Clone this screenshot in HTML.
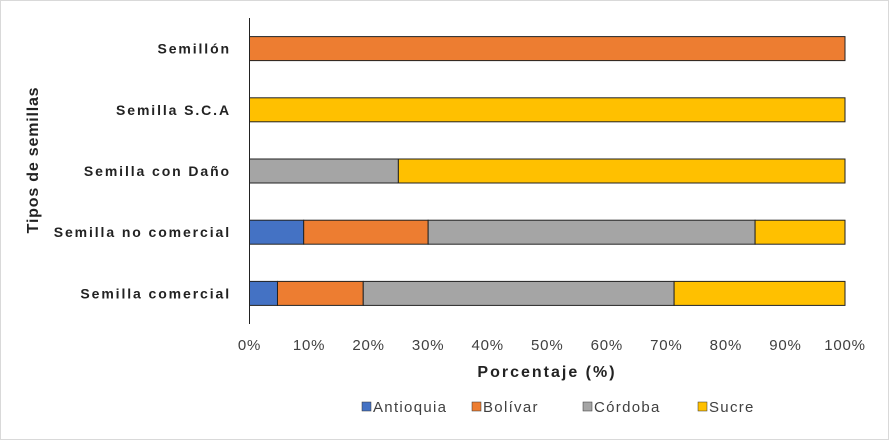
<!DOCTYPE html>
<html><head><meta charset="utf-8"><style>
body{margin:0;background:#fff}
svg{display:block;font-family:"Liberation Sans",Arial,sans-serif}
</style></head><body>
<svg id="c" width="889" height="440">
<rect x="0.5" y="0.5" width="888" height="439" fill="#fff" stroke="#d9d9d9"/>
</svg>
<script>
const categories=["Semillón","Semilla S.C.A","Semilla con Daño","Semilla no comercial","Semilla comercial"];
const seriesNames=["Antioquia","Bolívar","Córdoba","Sucre"];
const antioquia=[0,0,0,9.1,4.7];
const bolivar=[100,0,0,20.9,14.4];
const cordoba=[0,0,25,54.9,52.2];
const sucre=[0,100,75,15.1,28.7];
const xTicks=[0,10,20,30,40,50,60,70,80,90,100];
const colors=["#4472c4","#ed7d31","#a5a5a5","#ffc000"];
const series=[antioquia,bolivar,cordoba,sucre];
const svg=document.getElementById('c');
const NS="http://www.w3.org/2000/svg";
const X0=249.5,X1=845,Y0=18,Y1=324;
const band=(Y1-Y0)/categories.length;
const xs=v=>X0+(X1-X0)*v/100;
const yc=i=>Y0+band*(i+0.5);
function mk(t,a,txt){const e=document.createElementNS(NS,t);for(const k in a)e.setAttribute(k,a[k]);if(txt!=null)e.textContent=txt;svg.appendChild(e);return e;}
categories.forEach((c,i)=>{
  let acc=0;
  series.forEach((s,j)=>{
    const v=s[i];
    if(v>0){
      const r=mk('rect',{x:xs(acc),y:yc(i)-12,width:xs(acc+v)-xs(acc),height:24,fill:colors[j],stroke:'#222','stroke-width':1});
      
      
    }
    acc+=v;
  });
  const t=mk('text',{x:231,y:yc(i)+5,'text-anchor':'end','font-size':14,'font-weight':'bold','letter-spacing':1.9,fill:'#222'},c);
  
  
});
const ax=mk('line',{x1:X0,y1:Y0,x2:X0,y2:Y1,stroke:'#222'});


xTicks.forEach(v=>{
  const t=mk('text',{x:xs(v),y:350,'text-anchor':'middle','font-size':15,'letter-spacing':0.8,fill:'#404040'},v+'%');
  
  
});
const xt=mk('text',{x:547,y:377,'text-anchor':'middle','font-size':16,'font-weight':'bold','letter-spacing':2,fill:'#222'},'Porcentaje (%)');


const yt=mk('text',{x:0,y:0,'text-anchor':'middle','font-size':16,'font-weight':'bold','letter-spacing':0.8,fill:'#222',transform:'translate(38,160) rotate(-90)'},'Tipos de semillas');


const lx=[362,472,583,698];
seriesNames.forEach((n,j)=>{
  const r=mk('rect',{x:lx[j],y:402,width:9,height:9,fill:colors[j],stroke:'#333','stroke-width':0.5});
  
  
  const t=mk('text',{x:lx[j]+11,y:412,'font-size':15,'letter-spacing':1.3,fill:'#404040'},n);
  
  
});
</script>
</body></html>
